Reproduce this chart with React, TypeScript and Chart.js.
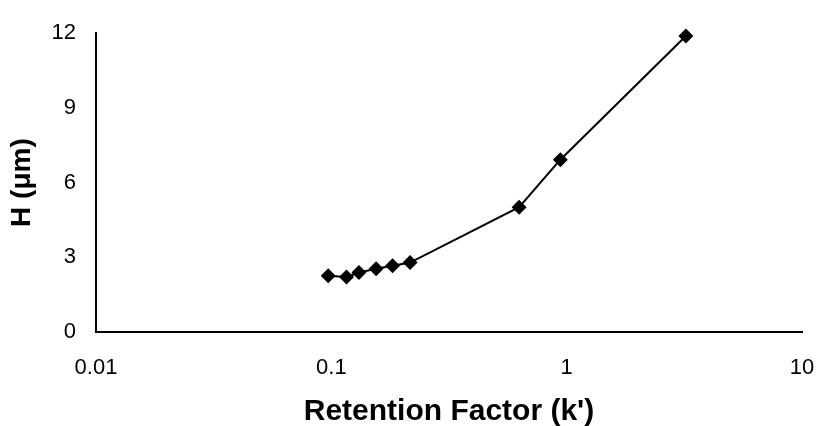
import React, { useEffect, useRef } from "react";
import { Chart, registerables } from "chart.js";

Chart.register(...registerables);

const kValues = [0.097, 0.116, 0.131, 0.155, 0.182, 0.216, 0.628, 0.94, 3.21];
const hValues = [2.26, 2.21, 2.39, 2.54, 2.66, 2.79, 5.01, 6.92, 11.89];
const xTickValues = [0.01, 0.1, 1, 10];
const xTickLabels = ["0.01", "0.1", "1", "10"];
const xTitle = "Retention Factor (k')";
const yTitle = "H (μm)";

export default function App() {
  const ref = useRef<HTMLCanvasElement>(null);
  useEffect(() => {
    if (!ref.current) return;
    const font = "'Liberation Sans', Arial, sans-serif";
    const chart = new Chart(ref.current, {
      type: "scatter",
      data: {
        datasets: [
          {
            data: kValues.map((k, i) => ({ x: k, y: hValues[i] })),
            showLine: true,
            clip: false,
            borderColor: "#000",
            backgroundColor: "#000",
            borderWidth: 2,
            pointStyle: "rectRot",
            pointRadius: 7.5,
            pointHoverRadius: 7.5,
            pointBorderWidth: 0,
          },
        ],
      },
      options: {
        responsive: false,
        animation: false,
        layout: { padding: { left: 0, right: 14, top: 24, bottom: 0 } },
        plugins: { legend: { display: false }, tooltip: { enabled: false } },
        scales: {
          x: {
            type: "logarithmic",
            min: 0.01,
            max: 10,
            afterBuildTicks: (scale: any) => {
              scale.ticks = xTickValues.map((v) => ({ value: v }));
            },
            afterFit: (scale: any) => {
              scale.height = 94;
            },
            ticks: {
              autoSkip: false,
              maxRotation: 0,
              padding: 0,
              color: "#000",
              font: { family: font, size: 22 },
              callback: (v: any) => {
                const idx = xTickValues.indexOf(Number(v));
                return idx >= 0 ? xTickLabels[idx] : "";
              },
            },
            grid: { display: false, drawTicks: true, tickLength: 23 },
            border: { display: true, color: "#000", width: 2 },
            title: {
              display: true,
              text: xTitle,
              color: "#000",
              font: { family: font, size: 30, weight: "bold" },
              padding: { top: 0, bottom: -4 },
            },
          },
          y: {
            min: 0,
            max: 12,
            afterFit: (scale: any) => {
              scale.width = 96;
            },
            ticks: {
              stepSize: 3,
              padding: 20,
              color: "#000",
              font: { family: font, size: 22 },
            },
            grid: { display: false, drawTicks: false },
            border: { display: true, color: "#000", width: 2 },
            title: {
              display: true,
              text: yTitle,
              color: "#000",
              font: { family: font, size: 28, weight: "bold" },
              padding: { top: 5, bottom: 0 },
            },
          },
        },
      },
    });
    return () => chart.destroy();
  }, []);
  return (
    <div style={{ position: "absolute", left: 0, top: 0, width: 816, height: 426, background: "#fff" }}>
      <canvas ref={ref} width={816} height={426} />
    </div>
  );
}
